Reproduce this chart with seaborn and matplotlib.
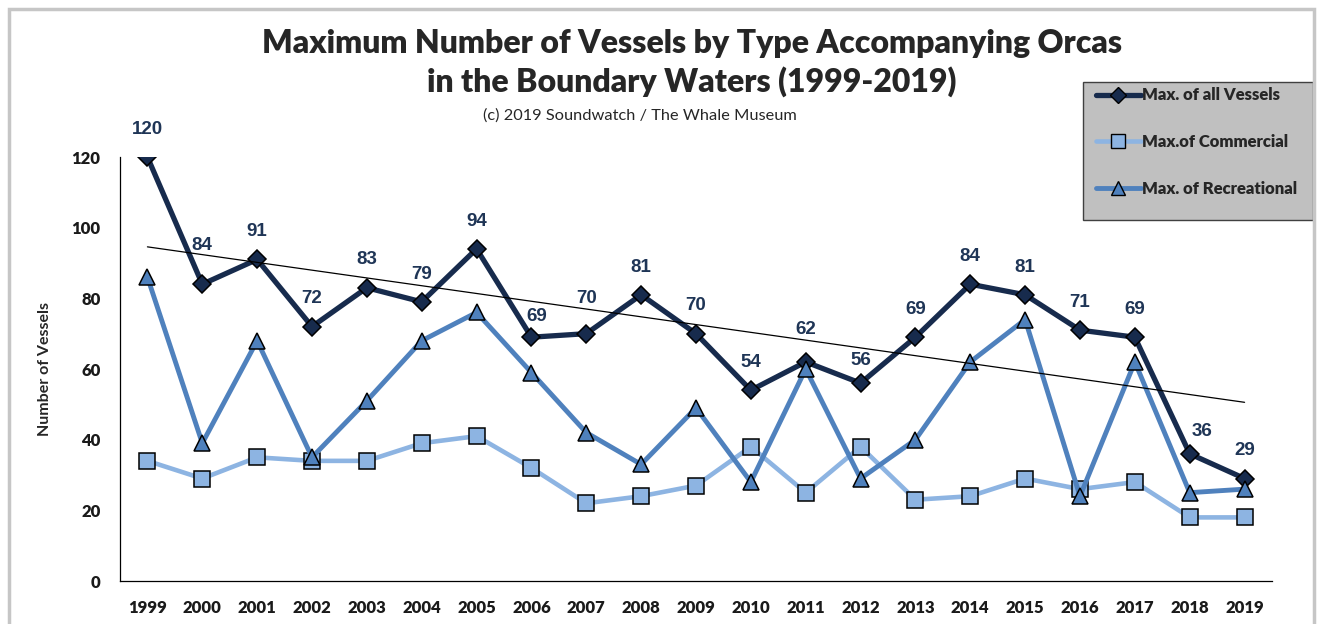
import numpy as np
import pandas as pd
import seaborn as sns
from matplotlib import pyplot as plt
from matplotlib.lines import Line2D
from matplotlib.patches import Rectangle

years = [str(y) for y in range(1999, 2020)]
all_vessels = [120, 84, 91, 72, 83, 79, 94, 69, 70, 81, 70, 54, 62, 56, 69, 84, 81, 71, 69, 36, 29]
commercial = [34, 29, 35, 34, 34, 39, 41, 32, 22, 24, 27, 38, 25, 38, 23, 24, 29, 26, 28, 18, 18]
recreational = [86, 39, 68, 35, 51, 68, 76, 59, 42, 33, 49, 28, 60, 29, 40, 62, 74, 24, 62, 25, 26]

# small nudges (in points) for a few data labels, like the hand-placed ones in the original
label_nudge = {1: (0, 8), 7: (4, -5), 8: (0, 5), 12: (0, 3), 13: (0, -4), 19: (9, -4)}

sns.set_style("white")
plt.rcParams['font.family'] = ['Lato', 'DejaVu Sans']

df = pd.DataFrame({"pos": np.arange(len(years)), "year": years, "all": all_vessels,
                   "commercial": commercial, "recreational": recreational})

navy = '#172B4D'
light = '#8DB4E2'
mid = '#4F81BD'

fig = plt.figure(figsize=(13.2, 6.24), dpi=100)
ax = fig.add_axes([120 / 1320, 1 - 581 / 624, (1272 - 120) / 1320, (581 - 157) / 624])

sns.lineplot(data=df, x="pos", y="all", ax=ax, color=navy, lw=3.8, marker='D', markersize=9.5,
             markerfacecolor=navy, markeredgecolor='black', markeredgewidth=1.1, zorder=3)
sns.lineplot(data=df, x="pos", y="commercial", ax=ax, color=light, lw=3.3, marker='s', markersize=11,
             markerfacecolor=light, markeredgecolor='black', markeredgewidth=1.1, zorder=4)
sns.lineplot(data=df, x="pos", y="recreational", ax=ax, color=mid, lw=3.5, marker='^', markersize=11,
             markerfacecolor=mid, markeredgecolor='black', markeredgewidth=1.1, zorder=5)

# linear trend of the total
k, b = np.polyfit(df["pos"], df["all"], 1)
xs = np.array([0, len(years) - 1])
ax.plot(xs, k * xs + b, color='black', lw=0.9, zorder=6)

for i, v in enumerate(all_vessels):
    dx, dy = label_nudge.get(i, (0, 0))
    ax.annotate(str(v), (i, v), xytext=(dx, 20 + dy), textcoords='offset points', ha='center', va='center',
                fontsize=13.5, fontweight='bold', color='#1F3556', family='Liberation Sans', zorder=7)

ax.set_xlim(-0.5, len(years) - 0.5)
ax.set_ylim(0, 120)
ax.set_yticks(range(0, 121, 20))
ax.set_xticks(df["pos"])
ax.set_xticklabels(years)
ax.set_xticks(np.arange(-0.5, len(years)), minor=True)
ax.tick_params(axis='x', which='major', length=0, pad=14, labelsize=12)
ax.tick_params(axis='x', which='minor', length=4.5, width=0.8, color='black', direction='out')
ax.tick_params(axis='y', length=0, pad=14, labelsize=12)
for lab in ax.get_xticklabels() + ax.get_yticklabels():
    lab.set_fontweight('heavy')
    lab.set_color('#1a1a1a')
ax.set_xlabel('')
ax.set_ylabel('Number of Vessels', fontsize=11.5, fontweight='bold', labelpad=14)
for side in ['top', 'right']:
    ax.spines[side].set_visible(False)
for side in ['left', 'bottom']:
    ax.spines[side].set_color('black')
    ax.spines[side].set_linewidth(0.9)

fig.text(692 / 1320, 1 - 63 / 624, "Maximum Number of Vessels by Type Accompanying Orcas\nin the Boundary Waters (1999-2019)",
         ha='center', va='center', fontsize=23, fontweight='heavy', linespacing=1.35)
fig.text(640 / 1320, 1 - 116 / 624, "(c) 2019 Soundwatch / The Whale Museum", ha='center', va='center', fontsize=11.8)

# legend box
fig.patches.append(Rectangle((1083 / 1320, 1 - 220 / 624), (1313 - 1083) / 1320, (220 - 82) / 624,
                             transform=fig.transFigure, facecolor='#C0C0C0', edgecolor='#404040', lw=1, zorder=2))
handles = [Line2D([], [], color=navy, lw=3.8, marker='D', markersize=8, markerfacecolor=navy, markeredgecolor='black'),
           Line2D([], [], color=light, lw=3.3, marker='s', markersize=10, markerfacecolor=light, markeredgecolor='black'),
           Line2D([], [], color=mid, lw=3.5, marker='^', markersize=10, markerfacecolor=mid, markeredgecolor='black')]
leg = fig.legend(handles, ["Max. of all Vessels", "Max.of Commercial", "Max. of Recreational"],
                 loc='upper left', bbox_to_anchor=(1083 / 1320, 1 - 74 / 624), frameon=False,
                 handlelength=2.65, handletextpad=0.1, labelspacing=1.85, borderpad=0.3,
                 prop={'family': 'Lato', 'weight': 'heavy', 'size': 12})
leg.set_zorder(3)

# outer chart border
fig.patches.append(Rectangle((9 / 1320, -0.05), (1314 - 9) / 1320, 1.05 - 9 / 624,
                             transform=fig.transFigure, fill=False, edgecolor='#C6C6C6', lw=2.5, zorder=4))

fig.savefig('out.png', dpi=100)
